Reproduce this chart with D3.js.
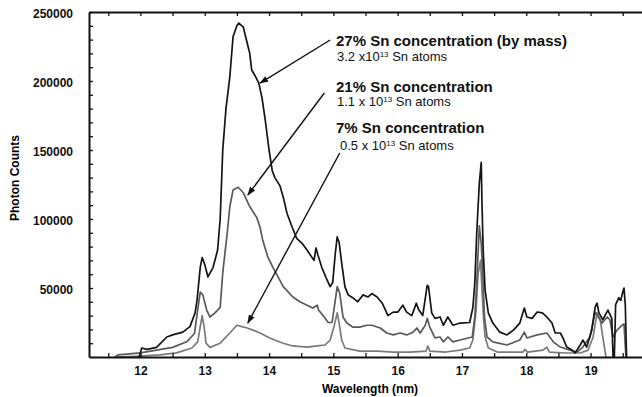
<!DOCTYPE html>
<html>
<head>
<meta charset="utf-8">
<script src="https://cdn.jsdelivr.net/npm/d3@7"></script>
<style>
  body { margin: 0; background: #fff; }
  svg { display: block; font-family: "Liberation Sans", Arial, sans-serif; }
  .tick text { font-weight: bold; font-size: 12px; fill: #111; }
  .annot-b { font-weight: bold; font-size: 15px; fill: #111; }
  .annot-r { font-size: 13px; fill: #111; }
</style>
</head>
<body>
<div id="chart"></div>
<script>
// [wavelength (nm), photon counts]
var sn27 = [
  [11.98,0],[12.02,6500],[12.1,5500],[12.25,7000],[12.41,14500],[12.5,16000],[12.66,18000],
  [12.77,22000],[12.85,32000],[12.88,41000],[12.93,65000],[12.96,72000],[13.0,67000],[13.05,58000],
  [13.13,65000],[13.2,77500],[13.24,100000],[13.28,150000],[13.33,180000],[13.39,203000],
  [13.44,232000],[13.5,240000],[13.53,242000],[13.6,239000],[13.66,227500],[13.7,220000],
  [13.73,208000],[13.78,204000],[13.84,198500],[13.89,188000],[13.94,172000],[14.0,150000],
  [14.05,135000],[14.09,130000],[14.17,124000],[14.22,116000],[14.28,104000],[14.36,94000],
  [14.43,86000],[14.51,82600],[14.59,77500],[14.67,72000],[14.7,70000],[14.73,79000],[14.76,74000],
  [14.82,65000],[14.9,56000],[14.95,51000],[14.99,54000],[15.03,75000],[15.06,87000],[15.09,83000],
  [15.13,68000],[15.18,51000],[15.23,45000],[15.3,43000],[15.38,40000],[15.46,45000],[15.54,43500],
  [15.6,46000],[15.68,43500],[15.76,39000],[15.85,30000],[15.93,32500],[16.0,32500],[16.08,37500],
  [16.14,32500],[16.22,30000],[16.29,39000],[16.33,34000],[16.39,30000],[16.46,52000],[16.48,51000],
  [16.53,32000],[16.58,28000],[16.66,29000],[16.71,23000],[16.78,29000],[16.86,23000],[16.97,24600],
  [17.12,25000],[17.17,36000],[17.2,53600],[17.23,90000],[17.27,126000],[17.3,141000],[17.31,114000],
  [17.33,77500],[17.36,48500],[17.41,32000],[17.48,24600],[17.59,18000],[17.7,16000],[17.8,19500],
  [17.9,24600],[17.97,35500],[18.01,29000],[18.09,28000],[18.17,32600],[18.25,32000],[18.32,29000],
  [18.4,24600],[18.45,17400],[18.53,17400],[18.57,13800],[18.63,7200],[18.71,5000],[18.76,3000],
  [18.84,8700],[18.88,12300],[18.94,7200],[19.02,19500],[19.07,36000],[19.1,39000],[19.13,32000],
  [19.19,27000],[19.27,34000],[19.33,28000],[19.35,0],[19.37,0],[19.39,38000],[19.44,43000],
  [19.47,41000],[19.5,47000],[19.52,50000],[19.54,38000],[19.56,0]
];
var sn21 = [
  [11.6,0],[11.65,1500],[12.0,3000],[12.25,5000],[12.5,7000],[12.72,11000],[12.84,17000],
  [12.89,34000],[12.93,47000],[12.97,45000],[13.03,34000],[13.08,29000],[13.16,32000],[13.24,36000],
  [13.28,61000],[13.35,90000],[13.39,109000],[13.44,121000],[13.52,123000],[13.6,119000],
  [13.7,109000],[13.81,101000],[13.86,94000],[13.9,85000],[13.98,72500],[14.06,65000],[14.14,58000],
  [14.22,51000],[14.37,43500],[14.48,40000],[14.59,37500],[14.68,35500],[14.75,37500],[14.77,34000],
  [14.84,30000],[14.92,25000],[14.98,25000],[15.03,41000],[15.06,51000],[15.1,46000],[15.15,29000],
  [15.21,24600],[15.3,21700],[15.41,21700],[15.52,23000],[15.6,23000],[15.73,21000],[15.83,17400],
  [15.93,16000],[16.04,17400],[16.14,16000],[16.24,18000],[16.3,21000],[16.35,17400],[16.43,23000],
  [16.46,28000],[16.5,21700],[16.58,13800],[16.66,14500],[16.71,11000],[16.78,14500],[16.86,11000],
  [16.97,12300],[17.16,14500],[17.2,29000],[17.23,53600],[17.27,95000],[17.3,82600],[17.33,53600],
  [17.35,29000],[17.39,14500],[17.48,11000],[17.7,8700],[17.9,12300],[17.97,18000],[18.01,13800],
  [18.17,16000],[18.32,17400],[18.42,11000],[18.53,7200],[18.68,5000],[18.79,3600],[18.88,7200],
  [18.99,14500],[19.07,32600],[19.12,29000],[19.18,24600],[19.26,29000],[19.3,27000],[19.35,14500],
  [19.41,19500],[19.49,23000],[19.52,24000],[19.55,0]
];
var sn7 = [
  [11.6,0],[11.9,500],[12.3,1500],[12.56,3000],[12.8,6500],[12.89,11000],[12.93,22000],[12.96,30000],
  [12.99,22000],[13.02,10000],[13.08,7000],[13.24,10000],[13.39,17400],[13.5,23000],[13.58,22000],
  [13.66,21000],[13.75,19500],[13.86,17400],[14.01,13800],[14.22,10000],[14.37,8000],[14.59,7200],
  [14.75,8000],[14.87,8700],[14.95,12300],[15.01,22000],[15.06,32000],[15.09,24600],[15.13,12300],
  [15.18,6500],[15.41,4300],[15.68,4300],[15.93,3600],[16.2,3600],[16.44,4300],[16.47,8000],
  [16.5,4300],[16.75,3600],[16.97,5000],[17.12,6500],[17.17,12300],[17.22,34000],[17.25,60000],
  [17.29,70000],[17.31,50000],[17.34,25000],[17.36,14500],[17.41,6500],[17.55,3600],[17.95,3600],
  [17.98,5500],[18.02,3600],[18.26,5000],[18.32,7200],[18.36,3600],[18.63,2900],[18.84,2900],
  [18.96,5000],[19.04,14500],[19.1,32000],[19.15,27000],[19.19,14500],[19.24,0]
];

var xLabels = [12, 13, 14, 15, 16, 17, 18, 19];
var yLabels = [50000, 100000, 150000, 200000, 250000];

// annotation: arrow start / end in data units
var notes = [
  {bold: "27% Sn concentration (by mass)", pre: "3.2 x10", post: " Sn atoms", from: [14.95, 229700], to: [13.86, 198500]},
  {bold: "21% Sn concentration", pre: "1.1 x 10", post: " Sn atoms", from: [14.86, 191300], to: [13.67, 117400]},
  {bold: "7% Sn concentration", pre: "0.5 x 10", post: " Sn atoms", from: [15.10, 147800], to: [13.67, 24600]}
];

var width = 642, height = 397;

var x = d3.scaleLinear().domain([11.2, 19.8]).range([89, 642]);
var y = d3.scaleLinear().domain([0, 250000]).range([357, 12]);

var svg = d3.select("#chart").append("svg")
    .attr("width", width)
    .attr("height", height);

svg.append("defs").append("marker")
    .attr("id", "head")
    .attr("viewBox", "0 0 10 10")
    .attr("refX", 9).attr("refY", 5)
    .attr("markerWidth", 9).attr("markerHeight", 9)
    .attr("markerUnits", "userSpaceOnUse")
    .attr("orient", "auto")
  .append("path")
    .attr("d", "M0,1.5 L10,5 L0,8.5 Z")
    .attr("fill", "#111");

var line = d3.line()
    .x(function(d) { return x(d[0]); })
    .y(function(d) { return y(d[1]); });

var series = [
  {data: sn7, color: "#7a7a7a"},
  {data: sn21, color: "#5a5a5a"},
  {data: sn27, color: "#141414"}
];

svg.selectAll(".spec")
    .data(series)
    .enter().append("path")
    .attr("class", "spec")
    .attr("d", function(d) { return line(d.data); })
    .attr("fill", "none")
    .attr("stroke", function(d) { return d.color; })
    .attr("stroke-width", 1.7)
    .attr("stroke-linejoin", "round");

// half-unit ticks, top and bottom, pointing in
var halfTicks = d3.range(11.5, 19.8, 0.5);
var tenK = d3.range(10000, 250001, 10000);

svg.append("g")
    .attr("class", "axis")
    .attr("transform", "translate(0," + y(0) + ")")
    .call(d3.axisBottom(x).tickValues(halfTicks).tickSize(-4).tickSizeOuter(0).tickFormat(""));

svg.append("g")
    .attr("class", "axis")
    .attr("transform", "translate(0," + y(250000) + ")")
    .call(d3.axisTop(x).tickValues(halfTicks).tickSize(-4).tickSizeOuter(0).tickFormat(""));

svg.append("g")
    .attr("class", "axis")
    .attr("transform", "translate(" + x(11.2) + ",0)")
    .call(d3.axisLeft(y).tickValues(tenK).tickSize(-4).tickSizeOuter(0).tickFormat(""));

svg.selectAll(".axis path").attr("stroke", "#111").attr("stroke-width", 2);
svg.selectAll(".axis line").attr("stroke", "#111").attr("stroke-width", 1.3);

// labels
var xl = svg.append("g")
    .attr("transform", "translate(0," + y(0) + ")")
    .call(d3.axisBottom(x).tickValues(xLabels).tickSize(0).tickPadding(9).tickFormat(d3.format("d")));
xl.select(".domain").remove();

var yl = svg.append("g")
    .attr("transform", "translate(" + x(11.2) + ",0)")
    .call(d3.axisLeft(y).tickValues(yLabels).tickSize(0).tickPadding(16).tickFormat(d3.format("d")));
yl.select(".domain").remove();
yl.selectAll("text").attr("dy", "0.45em");

svg.append("text")
    .attr("x", 370).attr("y", 393)
    .attr("text-anchor", "middle")
    .style("font-weight", "bold").style("font-size", "12px")
    .text("Wavelength (nm)");

svg.append("text")
    .attr("transform", "translate(19,178) rotate(-90)")
    .attr("text-anchor", "middle")
    .style("font-weight", "bold").style("font-size", "12px")
    .text("Photon Counts");

// annotations
var textY = [[46, 61], [92, 106], [133, 150]];
notes.forEach(function(n, i) {
  svg.append("text").attr("class", "annot-b")
      .attr("x", 336).attr("y", textY[i][0]).text(n.bold);
  var t = svg.append("text").attr("class", "annot-r")
      .attr("x", i == 2 ? 340 : 337).attr("y", textY[i][1]);
  t.append("tspan").text(n.pre);
  t.append("tspan").attr("dy", -4).style("font-size", "8px").text("13");
  t.append("tspan").attr("dy", 4).text(n.post);

  svg.append("line")
      .attr("x1", x(n.from[0])).attr("y1", y(n.from[1]))
      .attr("x2", x(n.to[0])).attr("y2", y(n.to[1]))
      .attr("stroke", "#111").attr("stroke-width", 1.4)
      .attr("marker-end", "url(#head)");
});
</script>
</body>
</html>
